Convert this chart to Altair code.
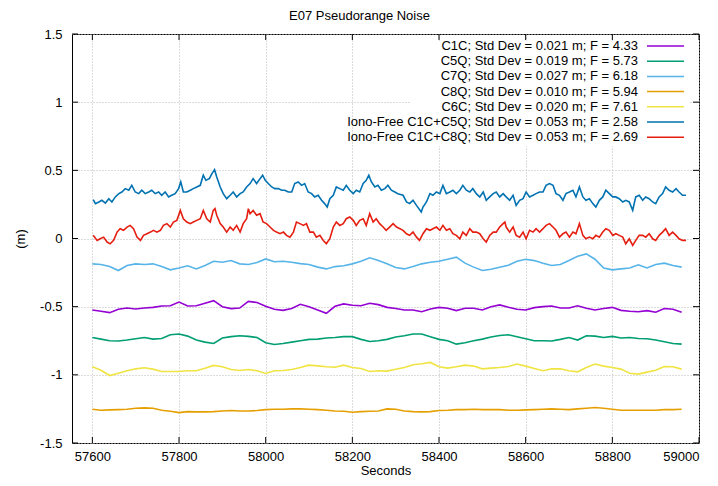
import altair as alt
import pandas as pd

# sampling times (seconds), every 20 s, for the single-frequency series
times = [57600 + 20 * i for i in range(69)]

names = [
    "C1C; Std Dev = 0.021 m; F = 4.33",
    "C5Q; Std Dev = 0.019 m; F = 5.73",
    "C7Q; Std Dev = 0.027 m; F = 6.18",
    "C8Q; Std Dev = 0.010 m; F = 5.94",
    "C6C; Std Dev = 0.020 m; F = 7.61",
    "Iono-Free C1C+C5Q; Std Dev = 0.053 m; F = 2.58",
    "Iono-Free C1C+C8Q; Std Dev = 0.053 m; F = 2.69",
]
colors = ["#9400d3", "#009e73", "#56b4e9", "#e69f00", "#f0e442", "#0072b2", "#e51e10"]

c1c = [-0.524, -0.534, -0.544, -0.519, -0.51, -0.517, -0.51, -0.505, -0.495, -0.493, -0.466, -0.495,
       -0.493, -0.475, -0.456, -0.5, -0.514, -0.51, -0.461, -0.47, -0.497, -0.519, -0.527, -0.514,
       -0.483, -0.5, -0.524, -0.549, -0.497, -0.48, -0.49, -0.493, -0.475, -0.485, -0.505, -0.513,
       -0.524, -0.524, -0.537, -0.517, -0.505, -0.512, -0.529, -0.512, -0.512, -0.524, -0.5, -0.487,
       -0.505, -0.519, -0.524, -0.507, -0.5, -0.495, -0.51, -0.51, -0.493, -0.512, -0.524, -0.514,
       -0.505, -0.527, -0.534, -0.537, -0.529, -0.541, -0.514, -0.519, -0.541]
c5q = [-0.726, -0.738, -0.75, -0.752, -0.745, -0.735, -0.726, -0.738, -0.733, -0.706, -0.701, -0.716,
       -0.745, -0.76, -0.77, -0.73, -0.72, -0.713, -0.718, -0.726, -0.765, -0.777, -0.77, -0.76,
       -0.75, -0.74, -0.738, -0.73, -0.726, -0.72, -0.72, -0.74, -0.755, -0.75, -0.74, -0.723,
       -0.713, -0.701, -0.701, -0.72, -0.74, -0.75, -0.775, -0.765, -0.75, -0.738, -0.723, -0.711,
       -0.706, -0.72, -0.735, -0.75, -0.75, -0.752, -0.74, -0.726, -0.745, -0.713, -0.716, -0.726,
       -0.718, -0.73, -0.726, -0.733, -0.735, -0.745, -0.757, -0.77, -0.775]
c7q = [-0.186, -0.191, -0.206, -0.235, -0.198, -0.186, -0.191, -0.186, -0.206, -0.23, -0.216, -0.2,
       -0.223, -0.198, -0.167, -0.174, -0.162, -0.186, -0.191, -0.176, -0.15, -0.171, -0.167, -0.174,
       -0.184, -0.191, -0.21, -0.223, -0.206, -0.2, -0.186, -0.167, -0.142, -0.162, -0.186, -0.213,
       -0.223, -0.206, -0.186, -0.174, -0.167, -0.152, -0.137, -0.181, -0.21, -0.235, -0.225, -0.211,
       -0.196, -0.167, -0.152, -0.162, -0.181, -0.198, -0.191, -0.162, -0.13, -0.113, -0.152, -0.216,
       -0.23, -0.223, -0.216, -0.193, -0.216, -0.191, -0.181, -0.198, -0.21]
c8q = [-1.252, -1.26, -1.257, -1.255, -1.252, -1.245, -1.242, -1.245, -1.26, -1.267, -1.277, -1.27,
       -1.272, -1.272, -1.27, -1.265, -1.262, -1.265, -1.265, -1.262, -1.255, -1.252, -1.252, -1.25,
       -1.25, -1.252, -1.255, -1.26, -1.265, -1.267, -1.274, -1.27, -1.267, -1.265, -1.25, -1.252,
       -1.265, -1.27, -1.272, -1.27, -1.262, -1.26, -1.255, -1.255, -1.252, -1.255, -1.255, -1.255,
       -1.26, -1.26, -1.257, -1.255, -1.252, -1.25, -1.252, -1.255, -1.25, -1.245, -1.24, -1.245,
       -1.252, -1.26, -1.26, -1.26, -1.26, -1.26, -1.255, -1.255, -1.252]
c6c = [-0.941, -0.966, -1.005, -0.988, -0.97, -0.956, -0.948, -0.958, -0.975, -0.975, -0.975, -0.97,
       -0.97, -0.951, -0.931, -0.941, -0.961, -0.968, -0.961, -0.97, -0.99, -0.97, -0.968, -0.961,
       -0.946, -0.929, -0.934, -0.941, -0.944, -0.929, -0.946, -0.953, -0.975, -0.97, -0.973, -0.959,
       -0.946, -0.926, -0.919, -0.909, -0.941, -0.951, -0.941, -0.929, -0.936, -0.956, -0.951, -0.946,
       -0.939, -0.921, -0.936, -0.953, -0.97, -0.956, -0.956, -0.97, -0.978, -0.946, -0.921, -0.936,
       -0.946, -0.958, -0.988, -0.995, -0.98, -0.966, -0.939, -0.941, -0.958]

# Iono-Free C1C+C5Q, read more densely
if5_t = [57602, 57607, 57615, 57622, 57630, 57638, 57645, 57653, 57661, 57668,
         57676, 57684, 57691, 57699, 57707, 57714, 57722, 57730, 57737, 57745,
         57753, 57760, 57768, 57776, 57783, 57791, 57799, 57804, 57810, 57818,
         57826, 57833, 57841, 57849, 57856, 57862, 57870, 57876, 57882, 57887,
         57895, 57902, 57910, 57918, 57925, 57933, 57941, 57948, 57956, 57964,
         57971, 57979, 57987, 57993, 57999, 58006, 58014, 58021, 58029, 58037,
         58044, 58052, 58060, 58067, 58075, 58083, 58090, 58098, 58106, 58113,
         58121, 58129, 58136, 58142, 58148, 58156, 58163, 58171, 58179, 58186,
         58194, 58202, 58209, 58217, 58225, 58232, 58238, 58244, 58252, 58259,
         58267, 58275, 58282, 58290, 58298, 58305,
         58317, 58325, 58332, 58340, 58348, 58359, 58363, 58371, 58379, 58386,
         58394, 58402, 58409, 58417, 58425, 58432, 58440, 58448, 58455, 58463,
         58471, 58478, 58486, 58494, 58502, 58509, 58517, 58525, 58532, 58540,
         58548, 58555, 58563, 58571, 58578, 58586, 58594, 58601, 58609, 58617,
         58624, 58632, 58640, 58647, 58655, 58663, 58670, 58678, 58686, 58693,
         58701, 58709, 58716, 58724, 58732, 58739, 58747, 58755, 58762, 58770,
         58778, 58785, 58793, 58801, 58808, 58816, 58824, 58831, 58839, 58847,
         58854, 58862, 58870, 58877, 58885, 58893, 58900, 58908, 58916, 58923,
         58931, 58939, 58947, 58954, 58962, 58970]
if5_v = [0.285, 0.255, 0.268, 0.28, 0.26, 0.292, 0.268, 0.305, 0.329, 0.341,
         0.366, 0.354, 0.39, 0.341, 0.329, 0.354, 0.329, 0.341, 0.354, 0.329,
         0.341, 0.317, 0.341, 0.305, 0.317, 0.329, 0.366, 0.415, 0.341, 0.341,
         0.354, 0.366, 0.378, 0.39, 0.464, 0.427, 0.439, 0.476, 0.505, 0.451,
         0.378, 0.329, 0.292, 0.317, 0.341, 0.305, 0.329, 0.341, 0.378, 0.403,
         0.439, 0.403, 0.439, 0.464, 0.427, 0.403, 0.378, 0.366, 0.366, 0.354,
         0.354, 0.341, 0.341, 0.403, 0.415, 0.39, 0.403, 0.341, 0.329, 0.305,
         0.317, 0.28, 0.256, 0.231, 0.292, 0.317, 0.378, 0.366, 0.354, 0.39,
         0.354, 0.329, 0.354, 0.341, 0.403, 0.427, 0.464, 0.415, 0.378, 0.39,
         0.354, 0.366, 0.39, 0.354, 0.341, 0.329,
         0.317, 0.268, 0.256, 0.28, 0.243, 0.194, 0.231, 0.268, 0.329, 0.317,
         0.341, 0.329, 0.39, 0.329, 0.341, 0.354, 0.329, 0.354, 0.39, 0.354,
         0.341, 0.366, 0.329, 0.305, 0.341, 0.28, 0.305, 0.329, 0.341, 0.305,
         0.329, 0.305, 0.28, 0.317, 0.243, 0.28, 0.292, 0.341, 0.305, 0.317,
         0.329, 0.341, 0.341, 0.39, 0.403, 0.39, 0.329, 0.317, 0.28, 0.329,
         0.341, 0.354, 0.305, 0.378, 0.305, 0.28, 0.292, 0.256, 0.231, 0.28,
         0.305, 0.354, 0.329, 0.305, 0.305, 0.292, 0.268, 0.28, 0.268, 0.207,
         0.305, 0.317, 0.28, 0.305, 0.292, 0.268, 0.256, 0.305, 0.329, 0.378,
         0.354, 0.341, 0.366, 0.341, 0.317, 0.317]

# Iono-Free C1C+C8Q, read more densely
if8_t = [57602, 57611, 57618, 57626, 57634, 57641, 57649, 57657, 57664, 57672,
         57680, 57687, 57695, 57703, 57711, 57718, 57726, 57734, 57741, 57749,
         57757, 57764, 57772, 57780, 57787, 57795, 57803, 57810, 57818, 57826,
         57833, 57841, 57849, 57856, 57864, 57872, 57879, 57883, 57887, 57895,
         57902, 57910, 57918, 57925, 57933, 57941, 57948, 57956, 57960, 57964,
         57971, 57979, 57987, 57994, 58002, 58010, 58018, 58025, 58033, 58041,
         58048, 58056, 58064, 58071, 58079, 58087, 58094, 58102, 58110, 58117,
         58125, 58133, 58140, 58148, 58156, 58163, 58171, 58179, 58186, 58194,
         58202, 58209, 58217, 58225, 58232, 58240, 58248, 58255, 58263, 58271,
         58278, 58286, 58294, 58302,
         58317, 58325, 58332, 58340, 58348, 58355, 58363, 58371, 58379, 58386,
         58394, 58402, 58409, 58417, 58425, 58432, 58440, 58448, 58455, 58463,
         58471, 58478, 58486, 58494, 58502, 58509, 58517, 58525, 58532, 58540,
         58548, 58552, 58555, 58563, 58571, 58578, 58586, 58594, 58601, 58609,
         58617, 58624, 58632, 58640, 58647, 58655, 58663, 58670, 58678, 58686,
         58693, 58701, 58709, 58716, 58724, 58732, 58739, 58747, 58755, 58762,
         58770, 58778, 58785, 58793, 58801, 58808, 58816, 58824, 58831, 58839,
         58847, 58854, 58862, 58870, 58877, 58885, 58893, 58900, 58908, 58916,
         58923, 58931, 58939, 58947, 58954, 58962, 58970]
if8_v = [0.023, -0.014, -0.002, 0.01, -0.026, -0.039, -0.014, 0.047, 0.072, 0.06,
         0.084, 0.096, 0.072, 0.01, -0.014, 0.023, 0.035, 0.047, 0.06, 0.047,
         0.06, 0.096, 0.109, 0.084, 0.121, 0.133, 0.206, 0.145, 0.121, 0.109,
         0.121, 0.133, 0.145, 0.206, 0.145, 0.121, 0.206, 0.219, 0.17, 0.109,
         0.084, 0.047, 0.084, 0.06, 0.096, 0.047, 0.109, 0.145, 0.219, 0.182,
         0.206, 0.17, 0.182, 0.121, 0.109, 0.084, 0.06, 0.047, 0.035, 0.047,
         0.023, 0.01, 0.047, 0.121, 0.109, 0.096, 0.109, 0.047, 0.047, 0.01,
         0.023, -0.014, -0.039, -0.002, 0.084, 0.121, 0.096, 0.109, 0.145, 0.158,
         0.133, 0.096, 0.133, 0.145, 0.096, 0.182, 0.121, 0.145, 0.109, 0.084,
         0.06, 0.084, 0.109, 0.084,
         0.06, 0.035, 0.023, 0.047, 0.01, -0.014, 0.035, 0.072, 0.06, 0.072,
         0.084, 0.06, 0.096, 0.06, 0.072, 0.035, 0.023, -0.002, 0.047, 0.023,
         0.072, 0.047, 0.047, 0.035, -0.002, -0.026, 0.023, 0.047, 0.047, 0.084,
         0.109, 0.121, 0.084, 0.047, 0.084, 0.023, 0.01, 0.047, -0.002, 0.06,
         0.047, 0.072, 0.047, 0.072, 0.096, 0.109, 0.084, 0.06, 0.01, 0.035,
         0.047, 0.01, 0.047, 0.035, 0.109, 0.023, -0.002, 0.01, -0.002, 0.023,
         0.01, 0.047, 0.072, 0.06, 0.023, 0.035, 0.023, 0.01, -0.039, -0.002,
         -0.051, -0.014, 0.023, 0.023, 0.01, 0.035, -0.002, -0.014, 0.023, 0.047,
         0.072, 0.023, 0.047, 0.023, -0.002, -0.014, -0.014]

x_ticks = [57600, 57800, 58000, 58200, 58400, 58600, 58800, 59000]
y_ticks = [-1.5, -1.0, -0.5, 0.0, 0.5, 1.0, 1.5]

all_series = [(times, c1c), (times, c5q), (times, c7q), (times, c8q), (times, c6c),
              (if5_t, if5_v), (if8_t, if8_v)]
rows = []
for name, (ts, vals) in zip(names, all_series):
    for t, v in zip(ts, vals):
        rows.append({"t": t, "v": v, "series": name})
df = pd.DataFrame(rows)

W, H = 627, 409
FONT = "Liberation Sans"
FS = 13

color_scale = alt.Scale(domain=names, range=colors)
x_scale = alt.Scale(domain=[57553, 59000], nice=False, zero=False)
y_scale = alt.Scale(domain=[-1.5, 1.5], nice=False, zero=False)
x_axis = alt.Axis(values=x_ticks, labelExpr="'' + datum.value", title="Seconds",
                  titleY=31, titleBaseline="alphabetic", labelPadding=7)
y_axis = alt.Axis(values=y_ticks, labelExpr="'' + datum.value", title="(m)",
                  titleX=-52, titleY=H / 2, titleAngle=270, titleBaseline="middle",
                  titleAlign="center", labelPadding=10)


def X():
    return alt.X("t:Q", scale=x_scale, axis=x_axis)


def Y():
    return alt.Y("v:Q", scale=y_scale, axis=y_axis)


lines = alt.Chart(df).mark_line(strokeWidth=1.6).encode(
    x=X(), y=Y(),
    color=alt.Color("series:N", scale=color_scale, legend=None),
    detail="series:N",
)

leg_df = pd.DataFrame({"series": names, "row": list(range(len(names)))})
leg_base = alt.Chart(leg_df).transform_calculate(ypix="12 + 15.2 * datum.row")

leg_bg = alt.Chart(leg_df).mark_rect(fill="white").encode(
    x=alt.value(338), x2=alt.value(618), y=alt.value(7), y2=alt.value(112)
)
leg_text = leg_base.mark_text(align="right", baseline="middle", font=FONT, fontSize=FS,
                              color="black").encode(
    x=alt.value(566), y=alt.Y("ypix:Q", scale=None), text="series:N"
)
leg_rule = leg_base.mark_rule(strokeWidth=1.5).encode(
    x=alt.value(575), x2=alt.value(612), y=alt.Y("ypix:Q", scale=None),
    color=alt.Color("series:N", scale=color_scale, legend=None),
)

xt_df = pd.DataFrame({"t": x_ticks})
yt_df = pd.DataFrame({"v": y_ticks})
TL = 6
ticks_b = alt.Chart(xt_df).mark_rule(color="black").encode(
    x=X(), y=alt.value(H), y2=alt.value(H - TL))
ticks_t = alt.Chart(xt_df).mark_rule(color="black").encode(
    x=X(), y=alt.value(0), y2=alt.value(TL))
ticks_l = alt.Chart(yt_df).mark_rule(color="black").encode(
    y=Y(), x=alt.value(0), x2=alt.value(TL))
ticks_r = alt.Chart(yt_df).mark_rule(color="black").encode(
    y=Y(), x=alt.value(W), x2=alt.value(W - TL))

chart = alt.layer(
    lines, leg_bg, leg_text, leg_rule, ticks_b, ticks_t, ticks_l, ticks_r
).properties(
    width=W, height=H,
    autosize=alt.AutoSizeParams(type="none"),
    padding={"left": 64, "top": 26, "right": 11, "bottom": 35},
    title=alt.TitleParams("E07 Pseudorange Noise", anchor="middle", dx=-26, offset=5,
                          font=FONT, fontSize=FS, fontWeight="normal", color="black"),
).configure_view(
    stroke="black", strokeWidth=1
).configure_axis(
    domain=False, ticks=False, grid=True, gridColor="#b8b8b8", gridDash=[1, 2], gridWidth=1,
    labelFont=FONT, labelFontSize=FS, labelColor="black",
    titleFont=FONT, titleFontSize=FS, titleFontWeight="normal", titleColor="black",
)

chart.save("out.html", embed_options={"renderer": "svg", "actions": False})
